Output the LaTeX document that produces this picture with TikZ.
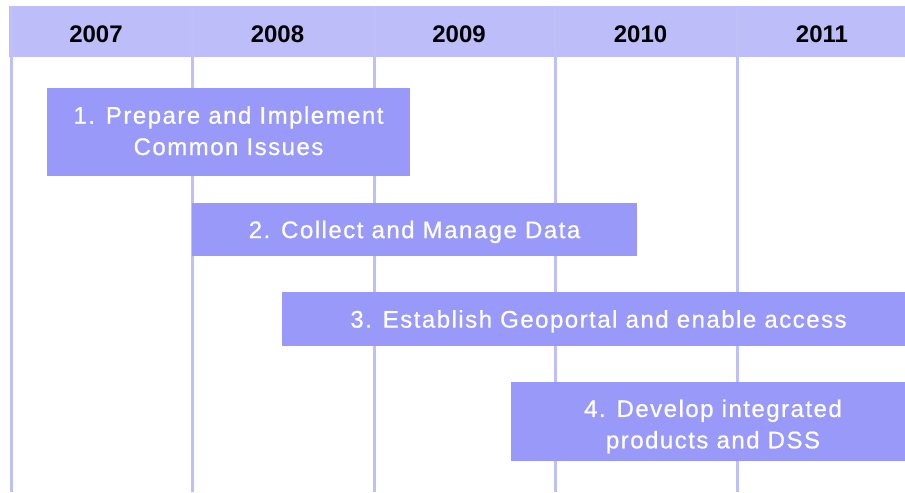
\documentclass[tikz,border=0pt]{standalone}
\usepackage{fontspec}
\setmainfont{Liberation Sans}
\newfontfamily\phasefont{Liberation Sans}[LetterSpace=6.2,FakeBold=0.7]
\definecolor{headblue}{RGB}{189,189,250}
\definecolor{gridblue}{RGB}{192,192,248}
\definecolor{phaseblue}{RGB}{153,153,250}
\begin{document}
\begin{tikzpicture}[x=0.75pt,y=-0.75pt,
  yearlabel/.style={anchor=base,text=black,font=\fontsize{18}{20}\selectfont\bfseries},
  phase/.style={fill=phaseblue,text=white,inner sep=0pt,align=center,text depth=0pt,
    font=\fontsize{18}{23.5}\selectfont\phasefont},
  oneline/.style={text height=12.9pt},
  twoline/.style={text height=#1},
  gridline/.style={draw=gridblue,line width=2.25pt}]
\useasboundingbox (0,0) rectangle (905,492);
\clip (0,0) rectangle (905,492);
\fill [headblue] (9,6) rectangle (905,57);
\foreach \x in {11,192,374,555,737}
  \draw [gridline] (\x,6) -- (\x,492);
\foreach \yr [count=\i] in {2007,2008,2009,2010,2011}
  \node (y\yr) [yearlabel] at ({96+181.5*(\i-1)},43) {\yr};
\node (p1) [phase,twoline=34.5pt,minimum width=272.25pt,minimum height=66pt] at (228.5,132) {1. Prepare and Implement\\Common Issues};
\node (p2) [phase,oneline,minimum width=333.75pt,minimum height=39.75pt] at (414.5,229.5) {2. Collect and Manage Data};
\node (p3) [phase,oneline,minimum width=474.75pt,minimum height=40.5pt] at (598.5,319) {3. Establish Geoportal and enable access};
\node (p4) [phase,twoline=40.2pt,minimum width=303pt,minimum height=59.25pt] at (713,421.5) {4. Develop integrated\\products and DSS};
\end{tikzpicture}
\end{document}
